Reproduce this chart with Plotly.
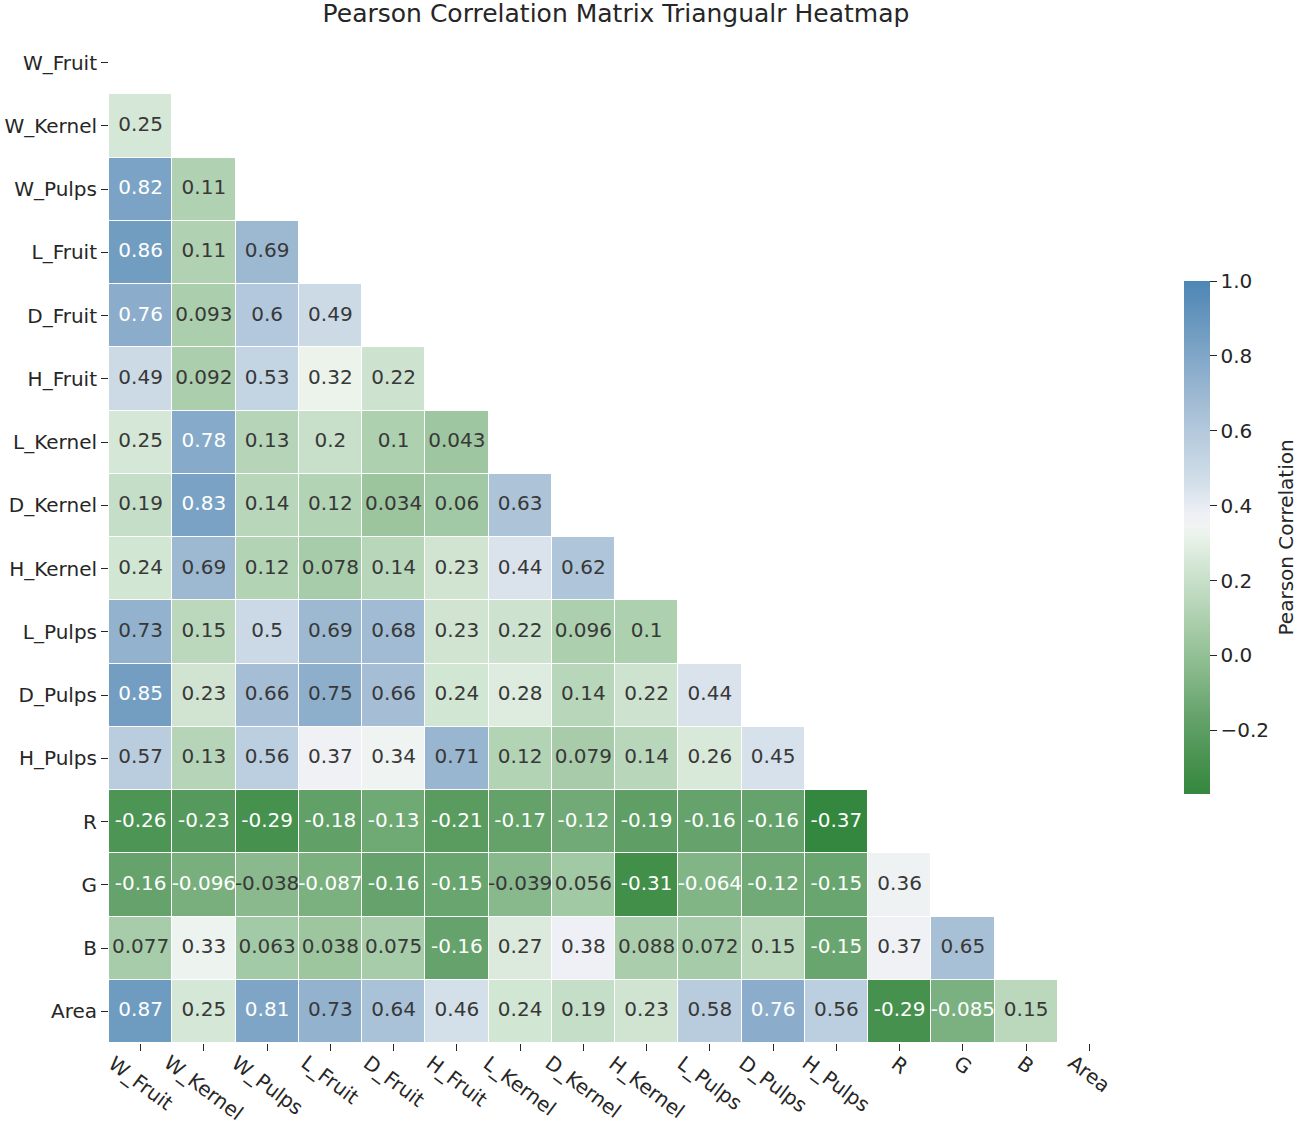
import plotly.graph_objects as go

labels = ["W_Fruit", "W_Kernel", "W_Pulps", "L_Fruit", "D_Fruit", "H_Fruit",
          "L_Kernel", "D_Kernel", "H_Kernel", "L_Pulps", "D_Pulps", "H_Pulps",
          "R", "G", "B", "Area"]

# lower-triangle correlation values, row by row (row i has i values)
row_W_Fruit = []
row_W_Kernel = [0.25]
row_W_Pulps = [0.82, 0.11]
row_L_Fruit = [0.86, 0.11, 0.69]
row_D_Fruit = [0.76, 0.093, 0.6, 0.49]
row_H_Fruit = [0.49, 0.092, 0.53, 0.32, 0.22]
row_L_Kernel = [0.25, 0.78, 0.13, 0.2, 0.1, 0.043]
row_D_Kernel = [0.19, 0.83, 0.14, 0.12, 0.034, 0.06, 0.63]
row_H_Kernel = [0.24, 0.69, 0.12, 0.078, 0.14, 0.23, 0.44, 0.62]
row_L_Pulps = [0.73, 0.15, 0.5, 0.69, 0.68, 0.23, 0.22, 0.096, 0.1]
row_D_Pulps = [0.85, 0.23, 0.66, 0.75, 0.66, 0.24, 0.28, 0.14, 0.22, 0.44]
row_H_Pulps = [0.57, 0.13, 0.56, 0.37, 0.34, 0.71, 0.12, 0.079, 0.14, 0.26, 0.45]
row_R = [-0.26, -0.23, -0.29, -0.18, -0.13, -0.21, -0.17, -0.12, -0.19, -0.16, -0.16, -0.37]
row_G = [-0.16, -0.096, -0.038, -0.087, -0.16, -0.15, -0.039, 0.056, -0.31, -0.064, -0.12, -0.15, 0.36]
row_B = [0.077, 0.33, 0.063, 0.038, 0.075, -0.16, 0.27, 0.38, 0.088, 0.072, 0.15, -0.15, 0.37, 0.65]
row_Area = [0.87, 0.25, 0.81, 0.73, 0.64, 0.46, 0.24, 0.19, 0.23, 0.58, 0.76, 0.56, -0.29, -0.085, 0.15]

rows = [row_W_Fruit, row_W_Kernel, row_W_Pulps, row_L_Fruit, row_D_Fruit, row_H_Fruit,
        row_L_Kernel, row_D_Kernel, row_H_Kernel, row_L_Pulps, row_D_Pulps, row_H_Pulps,
        row_R, row_G, row_B, row_Area]

cbar_ticks = [-0.2, 0.0, 0.2, 0.4, 0.6, 0.8, 1.0]

n = len(labels)
z = [[(rows[i][j] if j < i else None) for j in range(n)] for i in range(n)]

zmin, zmax = -0.37, 1.0
stops = [(-0.37, "#34873f"), (-0.29, "#46914e"), (-0.16, "#66a36c"), (-0.04, "#88b98c"),
         (0.077, "#a7cca9"), (0.15, "#bbd8bd"), (0.25, "#d5e7d6"), (0.32, "#ebf3eb"),
         (0.345, "#f0f3f2"), (0.38, "#eef0f5"), (0.46, "#d3dfe9"), (0.56, "#bccfe0"),
         (0.65, "#a8c0d6"), (0.76, "#8badcb"), (0.87, "#6e9bc0"), (1.0, "#4d86b5")]
colorscale = [[(v - zmin) / (zmax - zmin), c] for v, c in stops]

fig = go.Figure()
fig.add_trace(go.Heatmap(
    z=z, x=labels, y=labels, zmin=zmin, zmax=zmax, colorscale=colorscale,
    xgap=1, ygap=1, hoverongaps=False,
    colorbar=dict(
        x=(1184 - 109) / 1012, xanchor="left", xpad=0,
        y=1 - (537.5 - 31) / 1012, yanchor="middle", ypad=0,
        len=513 / 1012, lenmode="fraction", thickness=26,
        outlinewidth=0, ticks="outside", ticklen=7, tickcolor="#262626",
        tickvals=cbar_ticks,
        ticktext=[("\u2212" + f"{abs(t):.1f}") if t < 0 else f"{t:.1f}" for t in cbar_ticks],
        tickfont=dict(size=20, color="#262626"),
    ),
))

# cell annotations, seaborn-style ".2g" formatting
wx, wy, wt, dx, dy, dt = [], [], [], [], [], []
for i in range(n):
    for j in range(i):
        v = rows[i][j]
        t = format(v, ".2g")
        if v < -0.05 or v >= 0.76:
            wx.append(labels[j]); wy.append(labels[i]); wt.append(t)
        else:
            dx.append(labels[j]); dy.append(labels[i]); dt.append(t)

fig.add_trace(go.Scatter(x=wx, y=wy, text=wt, mode="text", hoverinfo="skip",
                         textfont=dict(size=20, color="white"), showlegend=False))
fig.add_trace(go.Scatter(x=dx, y=dy, text=dt, mode="text", hoverinfo="skip",
                         textfont=dict(size=20, color="#383838"), showlegend=False))

for lab in labels:
    fig.add_annotation(x=lab, xref="x", y=0, yref="paper", text=lab, showarrow=False,
                       textangle=37, xanchor="center", yanchor="top", yshift=-5,
                       font=dict(size=20, color="#262626"))

# colorbar label
fig.add_annotation(x=(1285 - 109) / 1012, xref="paper", y=1 - (537.5 - 31) / 1012, yref="paper",
                   text="Pearson Correlation", showarrow=False, textangle=-90,
                   xanchor="center", yanchor="middle", font=dict(size=20, color="#262626"))

fig.update_layout(
    width=1299, height=1125,
    margin=dict(l=109, r=178, t=31, b=82, autoexpand=False),
    paper_bgcolor="white", plot_bgcolor="white",
    font=dict(family="DejaVu Sans", color="#262626"),
    title=dict(text="Pearson Correlation Matrix Triangualr Heatmap", x=616 / 1299, xanchor="center",
               y=1 - 13 / 1125, yanchor="middle", font=dict(size=25, color="#262626")),
    xaxis=dict(range=[-0.5, n - 0.5], showgrid=False, zeroline=False, showline=False,
               ticks="outside", ticklen=7, tickcolor="#262626", showticklabels=False,
               automargin=False),
    yaxis=dict(range=[n - 0.5, -0.5], showgrid=False, zeroline=False, showline=False,
               ticks="outside", ticklen=7, tickcolor="#262626", automargin=False,
               tickfont=dict(size=20, color="#262626")),
    showlegend=False,
)

fig.write_html("out.html", config={"displayModeBar": False},
               post_script="document.body.style.margin='0px';")
